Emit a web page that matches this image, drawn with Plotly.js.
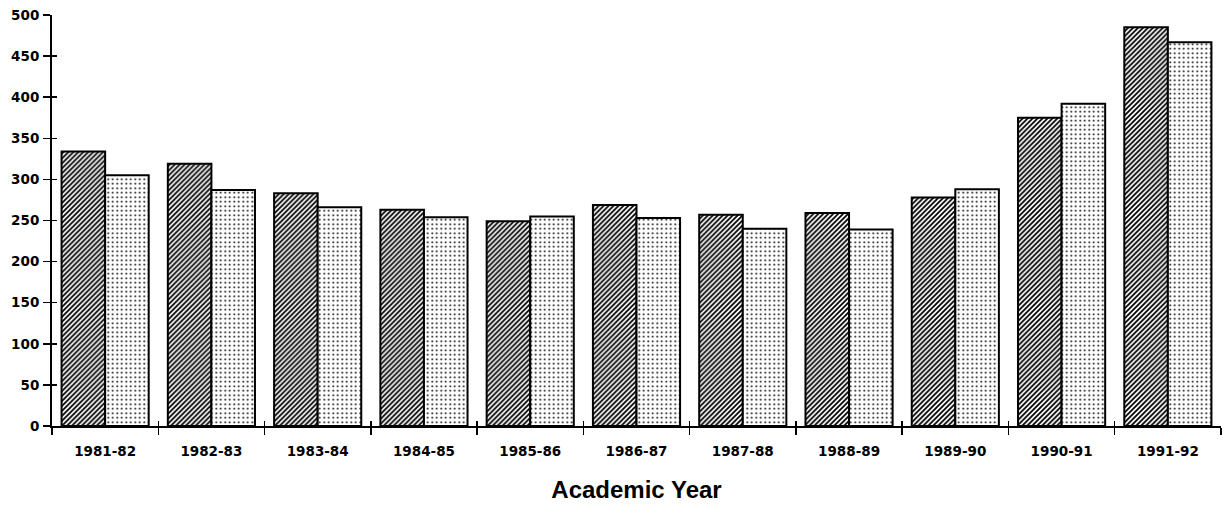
<!DOCTYPE html>
<html>
<head>
<meta charset="utf-8">
<script src="https://cdn.plot.ly/plotly-3.0.1.min.js"></script>
<style>html,body{margin:0;padding:0;background:#fff;}#chart{width:1223px;height:511px;}</style>
</head>
<body>
<div id="chart"></div>
<script>
// Data
const years = ["1981-82","1982-83","1983-84","1984-85","1985-86","1986-87","1987-88","1988-89","1989-90","1990-91","1991-92"];
const seriesHatched = [334, 319, 283, 263, 249, 269, 257, 259, 278, 375, 485];
const seriesDotted  = [305, 287, 266, 254, 255, 253, 240, 239, 288, 392, 467];
const yTicks = [0, 50, 100, 150, 200, 250, 300, 350, 400, 450, 500];

const boundaries = years.map((_, i) => i - 0.5).concat([years.length - 0.5]);

const traces = [
  {
    type: 'bar', x: years, y: seriesHatched, name: 'A',
    marker: {color: '#ffffff', line: {color: '#000', width: 2},
      pattern: {shape: '/', fgcolor: '#000', bgcolor: '#fff', size: 3.5, solidity: 0.5}},
    hoverinfo: 'x+y', showlegend: false
  },
  {
    type: 'bar', x: years, y: seriesDotted, name: 'B',
    marker: {color: '#ffffff', line: {color: '#000', width: 2},
      pattern: {shape: '.', fgcolor: '#000', bgcolor: '#fff', size: 4.5, solidity: 0.15}},
    hoverinfo: 'x+y', showlegend: false
  },
  // helper trace so the overlay axes (inner halves of crossing ticks) are drawn
  {type: 'scatter', x: [null], y: [null], xaxis: 'x2', yaxis: 'y2', showlegend: false, hoverinfo: 'skip'}
];

const tickFontY = {family: 'DejaVu Sans', size: 13.5, color: '#000', weight: 'bold'};
const tickFontX = {family: 'DejaVu Sans', size: 13.5, color: '#000', weight: 'bold'};

const layout = {
  width: 1223, height: 511,
  margin: {l: 52, r: 2, t: 15, b: 85},
  paper_bgcolor: '#fff', plot_bgcolor: '#fff',
  barmode: 'group', bargap: 0.18, bargroupgap: 0,
  showlegend: false,
  title: {
    text: 'Academic Year',
    font: {family: 'Liberation Sans', size: 24, color: '#000', weight: 'bold'},
    xref: 'paper', x: 0.5, xanchor: 'center',
    yref: 'container', y: 0.042, yanchor: 'middle'
  },
  xaxis: {
    type: 'category', categoryorder: 'array', categoryarray: years,
    range: [-0.5, years.length - 0.5],
    tickson: 'boundaries', ticks: 'outside', ticklen: 7, tickwidth: 1.5, tickcolor: '#000',
    showline: true, linecolor: '#000', linewidth: 2,
    showgrid: false, zeroline: false,
    tickfont: tickFontX, ticklabelstandoff: 12
  },
  yaxis: {
    range: [0, 500], tickvals: yTicks, ticktext: yTicks.map(String),
    ticks: 'outside', ticklen: 7, tickwidth: 1.5, tickcolor: '#000',
    showline: true, linecolor: '#000', linewidth: 2,
    showgrid: false, zeroline: false,
    tickfont: tickFontY, ticklabelstandoff: 1
  },
  xaxis2: {
    overlaying: 'x', anchor: 'y', side: 'bottom',
    range: [-0.5, years.length - 0.5], tickvals: boundaries,
    ticks: 'inside', ticklen: 5, tickwidth: 1.5, tickcolor: '#000',
    showticklabels: false, showline: false, showgrid: false, zeroline: false
  },
  yaxis2: {
    overlaying: 'y', anchor: 'x', side: 'left',
    range: [0, 500], tickvals: yTicks,
    ticks: 'inside', ticklen: 5, tickwidth: 1.5, tickcolor: '#000',
    showticklabels: false, showline: false, showgrid: false, zeroline: false
  }
};

Plotly.newPlot('chart', traces, layout, {displayModeBar: false, staticPlot: true});
</script>
</body>
</html>
